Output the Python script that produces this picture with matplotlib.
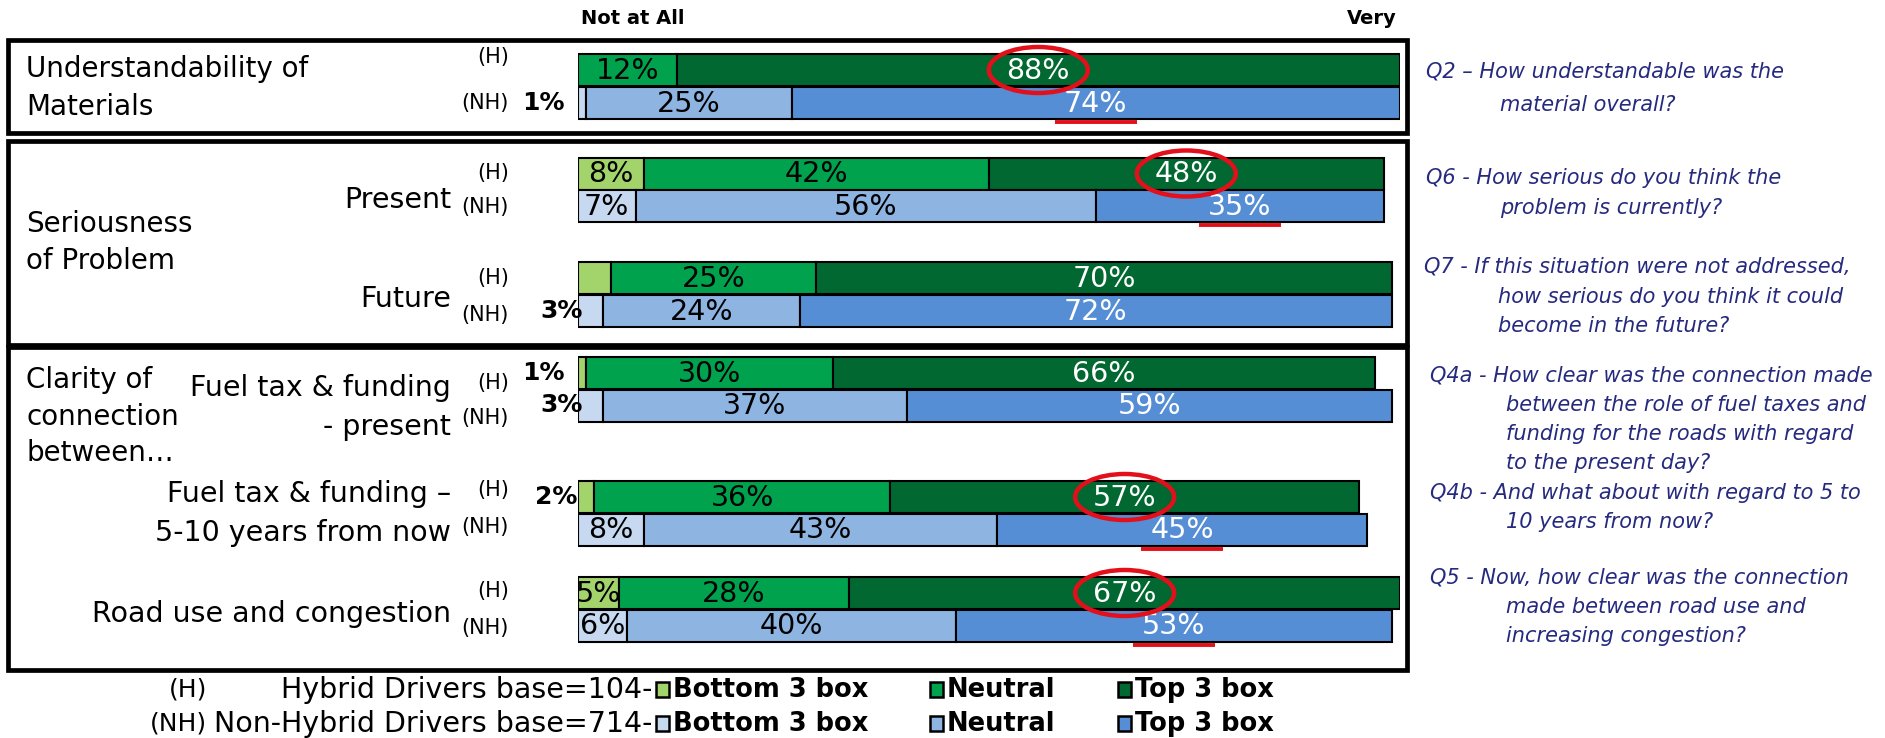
import matplotlib.pyplot as plt
from matplotlib.patches import Rectangle, Ellipse

W, H = 1885, 738

# ---- data (percent) ----
rows = ['Understandability', 'Present', 'Future', 'Fuel tax present', 'Fuel tax 5-10 yrs', 'Road use']
hybrid_bottom = [0, 8, 4, 1, 2, 5]
hybrid_neutral = [12, 42, 25, 30, 36, 28]
hybrid_top = [88, 48, 70, 66, 57, 67]
nonhybrid_bottom = [1, 7, 3, 3, 8, 6]
nonhybrid_neutral = [25, 56, 24, 37, 43, 40]
nonhybrid_top = [74, 35, 72, 59, 45, 53]
highlight = [True, True, False, False, True, True]

# labels drawn in bold outside the bar instead of inside (row, group)
outside_labels = {(0, 'NH'): -1.6, (2, 'NH'): 0.6, (3, 'H'): -1.6, (3, 'NH'): 0.6, (4, 'H'): -0.1}
no_label = {(2, 'H')}

# colours
c_h = ['#a3d46c', '#00a24d', '#006830']
c_nh = ['#c6d9f0', '#8eb4e2', '#558ed5']
navy = '#262a7e'
red = '#e3101b'

# layout (pixels from top)
row_top = [54, 157.5, 262, 357, 481, 577]
bar_h = 32

fig = plt.figure(figsize=(W / 100, H / 100), dpi=100)


def fx(x):
    return x / W


def fy(y):
    return 1 - y / H


ax = fig.add_axes([fx(578), 0, 822 / W, 1])
ax.set_xlim(0, 100)
ax.set_ylim(H, 0)
ax.axis('off')

for i in range(len(rows)):
    for grp, segs, cols, yc in (
        ('H', (hybrid_bottom[i], hybrid_neutral[i], hybrid_top[i]), c_h, row_top[i] + bar_h / 2),
        ('NH', (nonhybrid_bottom[i], nonhybrid_neutral[i], nonhybrid_top[i]), c_nh, row_top[i] + bar_h / 2 + 32.5),
    ):
        left = 0
        for k, v in enumerate(segs):
            if v == 0:
                continue
            ax.barh(yc, v, left=left, height=bar_h, color=cols[k], edgecolor='black', linewidth=1.5)
            if k == 0 and (i, grp) in outside_labels:
                ax.text(outside_labels[(i, grp)], yc, f'{v}%', ha='right', va='center',
                        fontsize=18, fontweight='bold', color='black')
            elif not (k == 0 and (i, grp) in no_label):
                tc = 'white' if k == 2 else 'black'
                ax.text(left + v / 2, yc + 1, f'{v}%', ha='center', va='center',
                        fontsize=20.5, color=tc)
            if k == 2 and highlight[i]:
                xc = left + v / 2
                if grp == 'H':
                    ax.add_patch(Ellipse((xc, yc), 99 / 8.22, 46, fill=False, ec=red, lw=3.2,
                                         clip_on=False, zorder=5))
                else:
                    ax.plot([xc - 41 / 8.22, xc + 41 / 8.22], [yc + bar_h / 2 + 3] * 2,
                            color=red, lw=2.8, solid_capstyle='butt')
            left += v

# scale ends
fig.text(fx(581), fy(19), 'Not at All', fontsize=14, fontweight='bold', va='center', ha='left')
fig.text(fx(1397), fy(19), 'Very', fontsize=14, fontweight='bold', va='center', ha='right')

# boxes
for y0, y1 in [(40, 133), (141, 345), (347, 670)]:
    fig.add_artist(Rectangle((fx(8), fy(y1)), (1407 - 8) / W, (y1 - y0) / H, fill=False,
                             lw=3.4, ec='black', transform=fig.transFigure))

# group labels (left)
group_lines = [('Understandability of', 69), ('Materials', 107),
               ('Seriousness', 224), ('of Problem', 261),
               ('Clarity of', 380), ('connection', 417), ('between…', 453)]
for t, y in group_lines:
    fig.text(fx(26), fy(y), t, fontsize=20, va='center', ha='left')

sub_lines = [('Present', 200), ('Future', 299),
             ('Fuel tax & funding', 388), ('- present', 427),
             ('Fuel tax & funding –', 494), ('5-10 years from now', 533),
             ('Road use and congestion', 614)]
for t, y in sub_lines:
    fig.text(fx(451), fy(y), t, fontsize=20.5, va='center', ha='right')

hnh_marks = [(57, 103), (173, 207), (278, 315), (383, 418), (490, 527), (591, 628)]
for yh, ynh in hnh_marks:
    fig.text(fx(509), fy(yh), '(H)', fontsize=15, va='center', ha='right')
    fig.text(fx(509), fy(ynh), '(NH)', fontsize=15, va='center', ha='right')

# question text (right)
questions = [
    ('Q2 – How understandable was the', 1426, 72), ('material overall?', 1500, 105),
    ('Q6 - How serious do you think the', 1426, 178), ('problem is currently?', 1500, 208),
    ('Q7 - If this situation were not addressed,', 1424, 266),
    ('how serious do you think it could', 1498, 297), ('become in the future?', 1498, 326),
    ('Q4a - How clear was the connection made', 1430, 375),
    ('between the role of fuel taxes and', 1506, 405), ('funding for the roads with regard', 1506, 434),
    ('to the present day?', 1506, 463),
    ('Q4b - And what about with regard to 5 to', 1430, 493), ('10 years from now?', 1506, 522),
    ('Q5 - Now, how clear was the connection', 1430, 578), ('made between road use and', 1506, 607),
    ('increasing congestion?', 1506, 636),
]
for t, x, y in questions:
    fig.text(fx(x), fy(y), t, fontsize=15, style='italic', color=navy, va='center', ha='left')

# legend
fig.text(fx(207), fy(690), '(H)', fontsize=18, va='center', ha='right')
fig.text(fx(207), fy(724), '(NH)', fontsize=18, va='center', ha='right')
fig.text(fx(652), fy(690), 'Hybrid Drivers base=104-', fontsize=20.5, va='center', ha='right')
fig.text(fx(652), fy(724), 'Non-Hybrid Drivers base=714-', fontsize=20.5, va='center', ha='right')
legend_names = ['Bottom 3 box', 'Neutral', 'Top 3 box']
legend_x = [656, 930, 1118]
for cols, y in ((c_h, 690), (c_nh, 724)):
    for name, col, x in zip(legend_names, cols, legend_x):
        fig.add_artist(Rectangle((fx(x), fy(y + 7)), 13 / W, 15 / H, fc=col, ec='black', lw=1.8,
                                 transform=fig.transFigure))
        fig.text(fx(x + 17), fy(y), name, fontsize=18.5, fontweight='bold', va='center', ha='left')

fig.savefig('out.png', dpi=100)
